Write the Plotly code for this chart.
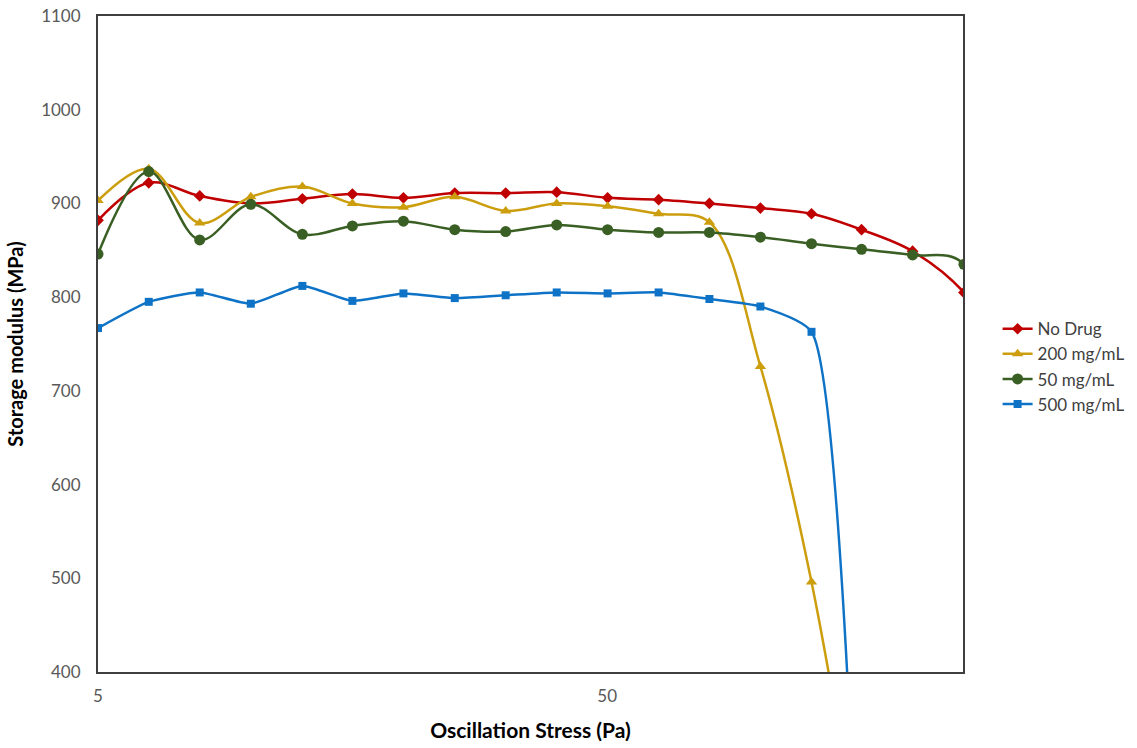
import plotly.graph_objects as go

stress = [5.0, 6.29, 7.92, 9.98, 12.6, 15.8, 19.9, 25.1, 31.6, 39.8, 50.1, 63.1, 79.4, 100, 126, 158, 199, 251, 316]

no_drug = [882, 922, 908, 900, 905, 910, 906, 911, 911, 912, 906, 904, 900, 895, 889, 872, 849, 805, 720]
mg200 = [903, 937, 879, 907, 918, 900, 896, 907, 892, 900, 897, 889, 880, 726, 496, 190]
mg50 = [846, 934, 861, 899, 867, 876, 881, 872, 870, 877, 872, 869, 869, 864, 857, 851, 845, 835, 450]
mg500 = [767, 795, 805, 793, 812, 796, 804, 799, 802, 805, 804, 805, 798, 790, 763, 50]

series = [
    ("No Drug", no_drug, "#C00000", "diamond", 9, 1.0),
    ("200 mg/mL", mg200, "#CC9E0E", "triangle-up", 10, 1.0),
    ("50 mg/mL", mg50, "#3A5F24", "circle", 11, 1.0),
    ("500 mg/mL", mg500, "#0E73C6", "square", 8, 0.55),
]

fig = go.Figure()
for name, vals, color, sym, size, smooth in series:
    fig.add_trace(go.Scatter(
        x=stress[:len(vals)], y=vals, name=name, mode="lines+markers",
        line=dict(color=color, width=2.5, shape="spline", smoothing=smooth),
        marker=dict(symbol=sym, size=size, color=color),
        cliponaxis=True,
    ))

font_family = "Lato, 'Open Sans', sans-serif"
fig.update_layout(
    width=1137, height=748,
    margin=dict(l=98, r=174, t=16, b=76, autoexpand=False),
    paper_bgcolor="white", plot_bgcolor="white",
    font=dict(family=font_family, color="#595959", size=17),
    showlegend=True,
    legend=dict(x=1.04, y=0.55, xanchor="left", yanchor="top",
                font=dict(size=17, color="#404040"), tracegroupgap=2,
                itemwidth=30,
                bgcolor="rgba(0,0,0,0)"),
    xaxis=dict(
        type="log", range=[0.69897, 2.3979], automargin=False,
        tickvals=[5, 50], ticktext=["5", "50"],
        showgrid=False, zeroline=False,
        showline=True, linecolor="#3f3f3f", linewidth=2, mirror=True,
        ticks="", ticklabelstandoff=8,
        title=dict(text="<b>Oscillation Stress (Pa)</b>", font=dict(size=21, color="#000000"), standoff=18),
    ),
    yaxis=dict(
        range=[400, 1100], dtick=100, tick0=400, automargin=False,
        showgrid=False, zeroline=False,
        showline=True, linecolor="#3f3f3f", linewidth=2, mirror=True,
        ticks="", ticklabelstandoff=12,
        title=dict(text="<b>Storage modulus (MPa)</b>", font=dict(size=20, color="#000000"), standoff=12),
    ),
)

fig.write_html("out.html")
